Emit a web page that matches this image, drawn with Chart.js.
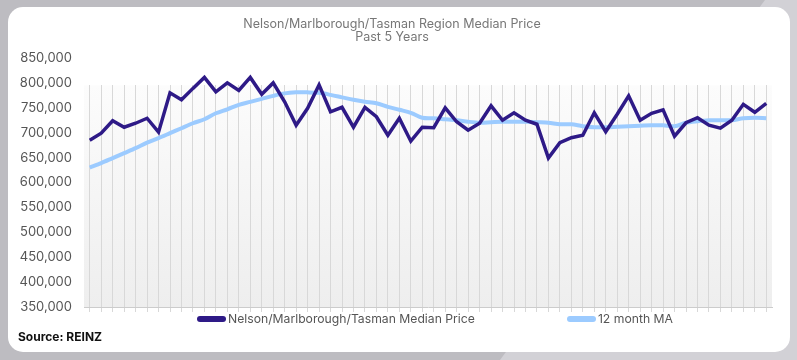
<!DOCTYPE html>
<html>
<head>
<meta charset="utf-8">
<script src="https://cdn.jsdelivr.net/npm/chart.js@4.4.1/dist/chart.umd.min.js"></script>
<style>
  html, body { margin: 0; padding: 0; }
  body { width: 797px; height: 360px; position: relative; overflow: hidden; background: #bdbcc1; font-family: Inter, "Open Sans", sans-serif; }
  .shade { position: absolute; inset: 0; background: #d2d1d6; clip-path: polygon(765px 0, 797px 0, 797px 360px, 500px 360px); }
  .card { position: absolute; left: 8px; top: 7px; width: 782px; height: 345px; background: #fff; border-radius: 15px; }
  .wrap { position: absolute; left: 0; top: 0; width: 797px; height: 360px; }
  .legend { position: absolute; left: 197px; top: 311px; display: flex; gap: 92px; font-size: 12.2px; color: #555; }
  .legend span { display: flex; align-items: center; }
  .legend i { display: inline-block; width: 29px; height: 6px; border-radius: 3px; margin-right: 2px; }
  .source { position: absolute; left: 18px; top: 329px; font-size: 12px; font-weight: 700; color: #111; }
</style>
</head>
<body>
<div class="shade"></div>
<div class="card"></div>
<div class="wrap"><canvas id="grafico"></canvas></div>
<div class="legend">
  <span><i style="background:#2e1a87"></i>Nelson/Marlborough/Tasman Median Price</span>
  <span><i style="background:#9ccbff"></i>12 month MA</span>
</div>
<div class="source">Source: REINZ</div>
<script>
// valores (mensal, 5 anos)
const mediana = [
  685, 699, 724, 711, 719, 729, 701, 780, 766, 789,
  811, 782, 800, 785, 811, 777, 800, 762, 715, 749,
  796, 742, 751, 711, 751, 732, 695, 729, 683, 711,
  710, 750, 722, 705, 719, 754, 725, 740, 725, 717,
  649, 680, 690, 695, 740, 702, 737, 774, 725, 739,
  746, 693, 720, 730, 715, 709, 725, 757, 741, 759
].map(v => v * 1000);

const mediaMovel = [
  630, 639, 649, 659, 669, 680, 689, 699, 709, 719,
  727, 739, 747, 756, 762, 768, 774, 779, 781, 781,
  780, 776, 771, 766, 762, 759, 752, 746, 740, 730,
  729, 727, 725, 722, 720, 721, 722, 722, 722, 721,
  720, 717, 717, 713, 711, 711, 712, 713, 714, 715,
  715, 713, 720, 723, 725, 725, 725, 729, 730, 729
].map(v => v * 1000);

const meses = mediana.map((_, i) => 'M' + (i + 1));

const yMin = 350000;
const yMax = 850000;
const yPasso = 50000;

// a grade e o fundo só começam um pouco abaixo do topo
const inicioGrade = 0.11;

// fundo degradê da área do gráfico
const fundoArea = {
  id: 'fundoArea',
  beforeDraw(chart) {
    const { ctx, chartArea: a } = chart;
    const topo = a.top + (a.bottom - a.top) * inicioGrade;
    const g = ctx.createLinearGradient(0, topo, 0, a.bottom);
    g.addColorStop(0, '#fcfcfc');
    g.addColorStop(1, '#eeeeee');
    ctx.save();
    ctx.fillStyle = g;
    ctx.fillRect(a.left, topo, a.right - a.left, a.bottom - topo);
    ctx.restore();
  }
};

function corGrade(c) {
  const a = c.chart.chartArea;
  if (!a) return '#d8d8d8';
  const g = c.chart.ctx.createLinearGradient(0, a.top, 0, a.bottom);
  g.addColorStop(0, 'rgba(216,216,216,0)');
  g.addColorStop(inicioGrade - 0.001, 'rgba(216,216,216,0)');
  g.addColorStop(inicioGrade, '#d8d8d8');
  g.addColorStop(1, '#d8d8d8');
  return g;
}

const ctx = document.getElementById('grafico').getContext('2d');
new Chart(ctx, {
  type: 'line',
  data: {
    labels: meses,
    datasets: [{
      label: 'Nelson/Marlborough/Tasman Median Price',
      data: mediana,
      borderColor: '#2e1a87',
      borderWidth: 3.5,
      pointRadius: 0,
      tension: 0,
      borderJoinStyle: 'miter'
    }, {
      label: '12 month MA',
      data: mediaMovel,
      borderColor: '#9ccbff',
      borderWidth: 4,
      pointRadius: 0,
      tension: 0.3
    }]
  },
  options: {
    responsive: true,
    maintainAspectRatio: false,
    animation: false,
    layout: { padding: { left: 12, right: 25, top: 0, bottom: 43 } },
    plugins: {
      legend: { display: false },
      tooltip: { enabled: false },
      title: {
        display: true,
        text: ['Nelson/Marlborough/Tasman Region Median Price', 'Past 5 Years'],
        color: '#777',
        font: { family: 'Inter', size: 12.5, weight: 'normal', lineHeight: 1.08 },
        padding: { top: 17, bottom: 14 }
      }
    },
    scales: {
      x: {
        offset: true,
        grid: { offset: false, color: corGrade, tickLength: 5, drawTicks: true },
        border: { display: true, color: '#cccccc' },
        ticks: { display: false },
        afterFit: s => { s.height = 10; }
      },
      y: {
        min: yMin,
        max: yMax,
        grid: { display: false, drawTicks: false },
        border: { display: false },
        ticks: {
          stepSize: yPasso,
          padding: 12,
          color: '#555',
          font: { family: 'Inter', size: 13 },
          callback: v => v.toLocaleString('en-US')
        },
        afterFit: s => { s.width = 72; }
      }
    }
  },
  plugins: [fundoArea]
});
</script>
</body>
</html>
